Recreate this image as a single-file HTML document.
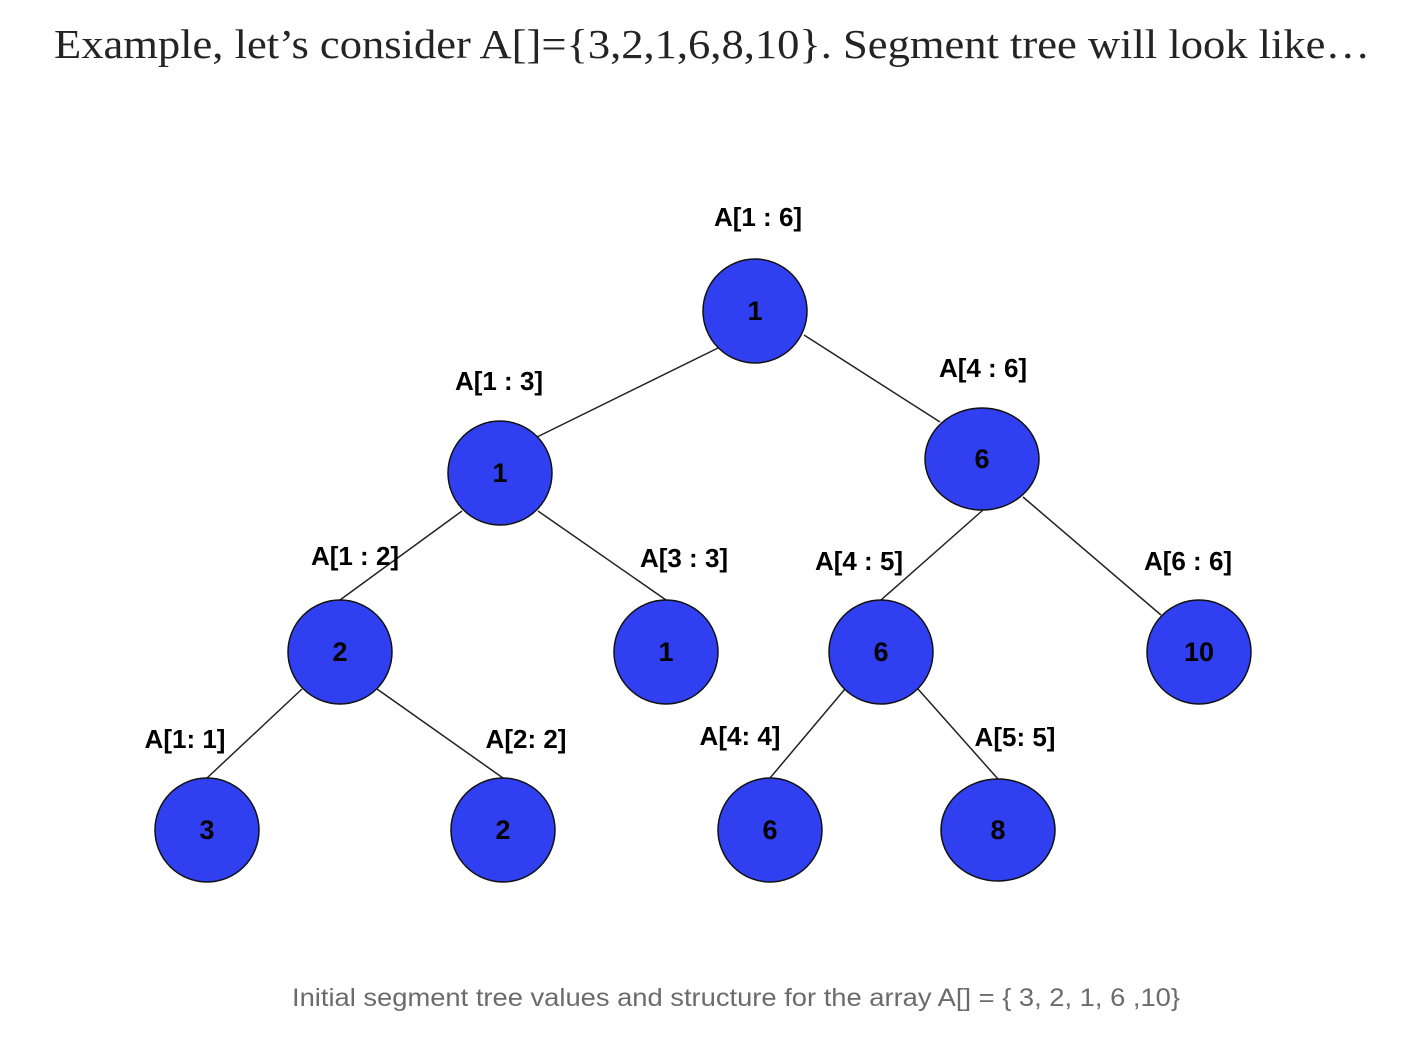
<!DOCTYPE html>
<html><head><style>
body{margin:0;background:#fff;width:1424px;height:1052px;overflow:hidden}
</style></head><body>
<svg width="1424" height="1052" xmlns="http://www.w3.org/2000/svg">
<text x="712" y="58" text-anchor="middle" font-family="Liberation Serif, serif" font-size="41" fill="#242424" textLength="1316" lengthAdjust="spacingAndGlyphs">Example, let’s consider A[]={3,2,1,6,8,10}. Segment tree will look like…</text>
<g stroke="#222" stroke-width="1.5">
<line x1="718" y1="348" x2="537" y2="437"/>
<line x1="804" y1="335" x2="940" y2="422"/>
<line x1="462" y1="511" x2="340" y2="600"/>
<line x1="538" y1="511" x2="666" y2="600"/>
<line x1="983" y1="510" x2="881" y2="600"/>
<line x1="1023" y1="497" x2="1161" y2="615"/>
<line x1="302" y1="689" x2="207" y2="778"/>
<line x1="377" y1="689" x2="503" y2="778"/>
<line x1="845" y1="689" x2="770" y2="778"/>
<line x1="918" y1="689" x2="998" y2="779"/>
</g>
<g fill="#3040F0" stroke="#111" stroke-width="1.5">
<ellipse cx="755" cy="311" rx="52" ry="52"/>
<ellipse cx="500" cy="473" rx="52" ry="52"/>
<ellipse cx="982" cy="459" rx="57" ry="51"/>
<ellipse cx="340" cy="652" rx="52" ry="52"/>
<ellipse cx="666" cy="652" rx="52" ry="52"/>
<ellipse cx="881" cy="652" rx="52" ry="52"/>
<ellipse cx="1199" cy="652" rx="52" ry="52"/>
<ellipse cx="207" cy="830" rx="52" ry="52"/>
<ellipse cx="503" cy="830" rx="52" ry="52"/>
<ellipse cx="770" cy="830" rx="52" ry="52"/>
<ellipse cx="998" cy="830" rx="57" ry="51"/>
</g>
<g font-family="Liberation Sans, sans-serif" font-weight="bold" font-size="27" fill="#000" text-anchor="middle">
<text x="755" y="320">1</text>
<text x="500" y="482">1</text>
<text x="982" y="468">6</text>
<text x="340" y="661">2</text>
<text x="666" y="661">1</text>
<text x="881" y="661">6</text>
<text x="1199" y="661">10</text>
<text x="207" y="839">3</text>
<text x="503" y="839">2</text>
<text x="770" y="839">6</text>
<text x="998" y="839">8</text>
</g>
<g font-family="Liberation Sans, sans-serif" font-weight="bold" font-size="26" fill="#000" text-anchor="middle">
<text x="758" y="226">A[1 : 6]</text>
<text x="499" y="390">A[1 : 3]</text>
<text x="983" y="377">A[4 : 6]</text>
<text x="355" y="565">A[1 : 2]</text>
<text x="684" y="567">A[3 : 3]</text>
<text x="859" y="570">A[4 : 5]</text>
<text x="1188" y="570">A[6 : 6]</text>
<text x="185" y="748">A[1: 1]</text>
<text x="526" y="748">A[2: 2]</text>
<text x="740" y="745">A[4: 4]</text>
<text x="1015" y="746">A[5: 5]</text>
</g>
<text x="736" y="1006" text-anchor="middle" font-family="Liberation Sans, sans-serif" font-size="25" fill="#6b6b6b" textLength="888" lengthAdjust="spacingAndGlyphs">Initial segment tree values and structure for the array A[] = { 3, 2, 1, 6 ,10}</text>
</svg>
</body></html>
